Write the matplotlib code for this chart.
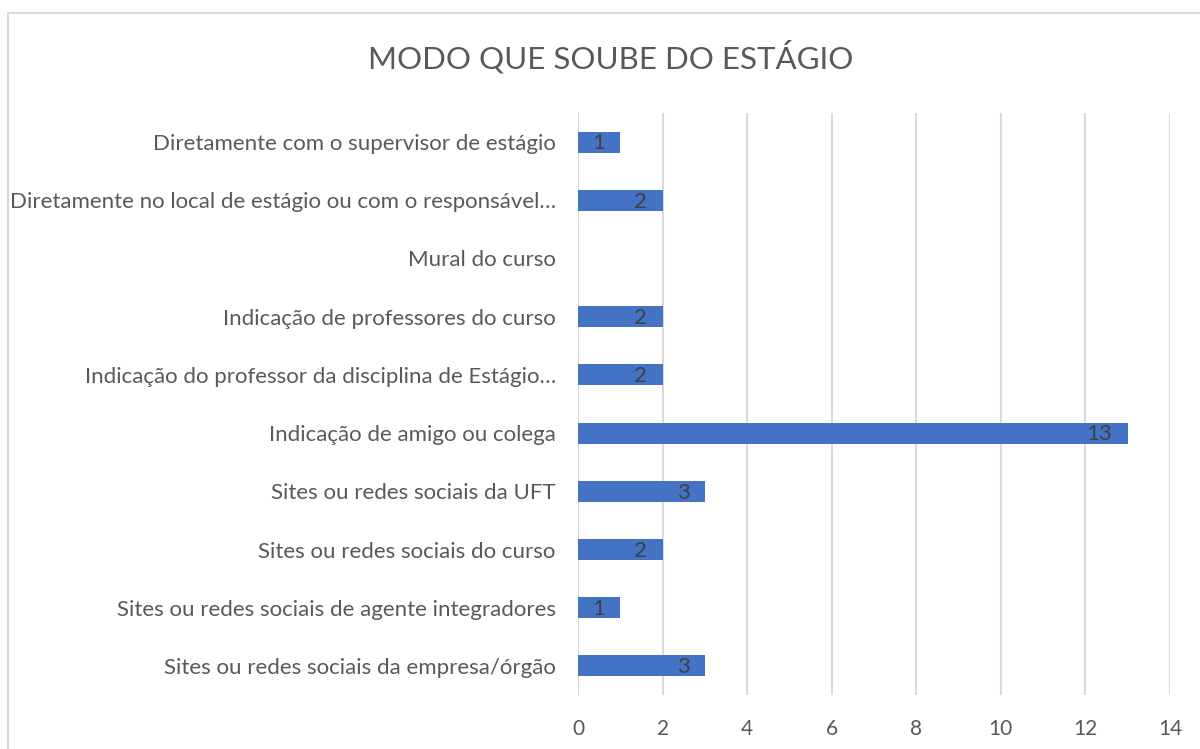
import matplotlib.pyplot as plt
from matplotlib.patches import Rectangle

categorias = [
    "Diretamente com o supervisor de estágio",
    "Diretamente no local de estágio ou com o responsável…",
    "Mural do curso",
    "Indicação de professores do curso",
    "Indicação do professor da disciplina de Estágio…",
    "Indicação de amigo ou colega",
    "Sites ou redes sociais da UFT",
    "Sites ou redes sociais do curso",
    "Sites ou redes sociais de agente integradores",
    "Sites ou redes sociais da empresa/órgão",
]
valores = [1, 2, 0, 2, 2, 13, 3, 2, 1, 3]
xticks = [0, 2, 4, 6, 8, 10, 12, 14]

plt.rcParams['font.family'] = ['Lato', 'DejaVu Sans']
cinza = '#595959'

fig = plt.figure(figsize=(12, 7.49), dpi=100)
# moldura do gráfico (corta na direita e embaixo)
fig.patches.append(Rectangle((8 / 1200, -0.05), 1.1, 1 - 13 / 749 + 0.05,
                             transform=fig.transFigure, fill=False,
                             edgecolor='#d9d9d9', linewidth=1.5))

ax = fig.add_axes([578 / 1200, 1 - 695 / 749, (1170 - 578) / 1200, (695 - 113) / 749])

y = list(range(len(categorias)))
ax.barh(y, valores, height=0.36, color='#4472C4', zorder=3)
ax.set_yticks(y)
ax.set_yticklabels(categorias, fontsize=16, color=cinza)
ax.invert_yaxis()
ax.set_ylim(len(categorias) - 0.5, -0.5)

for yi, v in zip(y, valores):
    if v > 0:
        ax.annotate(str(v), (v, yi), xytext=(-11, -1), textcoords='offset points',
                    ha='right', va='center', fontsize=16, color='#404040', zorder=4)

ax.set_xlim(0, 14)
ax.set_xticks(xticks)
ax.set_xticklabels([str(t) for t in xticks], fontsize=15, color=cinza)
ax.tick_params(axis='both', length=0)
ax.tick_params(axis='y', pad=16)
ax.tick_params(axis='x', pad=17)
ax.grid(axis='x', color='#d9d9d9', linewidth=1.5, zorder=0)
for s in ax.spines.values():
    s.set_visible(False)

fig.text(611 / 1200, 1 - 57 / 749, "MODO QUE SOUBE DO ESTÁGIO", ha='center', va='center',
         fontsize=22.5, color=cinza)

fig.savefig('out.png', dpi=100)
